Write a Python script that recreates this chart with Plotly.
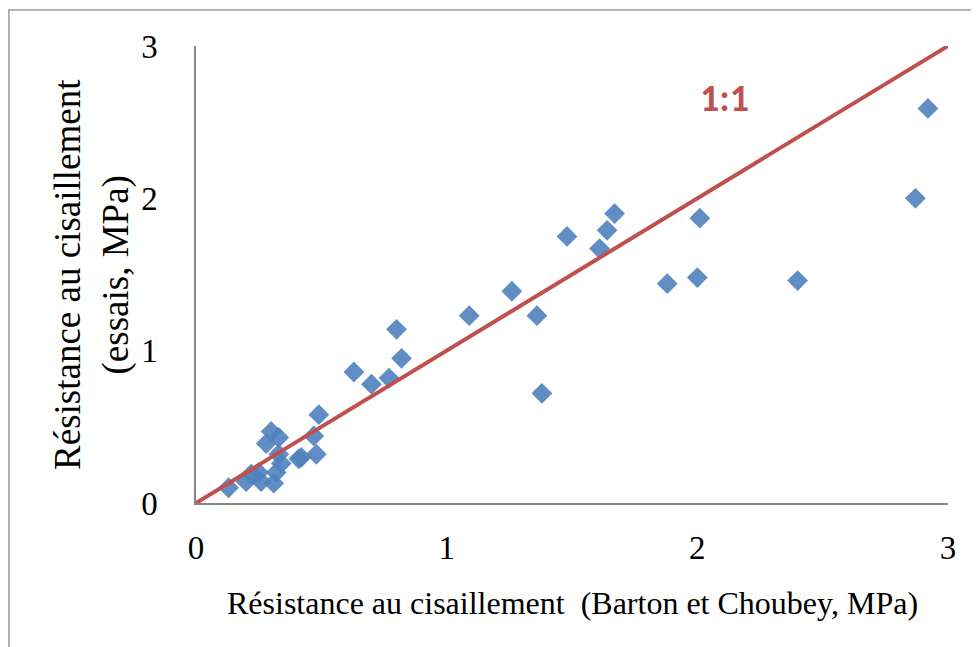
import plotly.graph_objects as go

# Barton & Choubey predicted shear strength (MPa) vs measured (essais, MPa)
barton_x = [2.92, 2.87, 2.40, 2.00, 1.88, 2.01, 1.67, 1.64, 1.61, 1.48,
            1.26, 1.36, 1.38, 1.09, 0.80, 0.82, 0.77, 0.70, 0.63, 0.49,
            0.47, 0.48, 0.41, 0.30, 0.33, 0.28, 0.33, 0.34, 0.32, 0.25,
            0.26, 0.31, 0.20, 0.13, 0.22, 0.42]
essais_y = [2.59, 2.00, 1.46, 1.48, 1.44, 1.87, 1.90, 1.79, 1.67, 1.75,
            1.39, 1.23, 0.72, 1.23, 1.14, 0.95, 0.82, 0.78, 0.86, 0.58,
            0.44, 0.32, 0.29, 0.47, 0.43, 0.39, 0.32, 0.26, 0.20, 0.20,
            0.14, 0.13, 0.14, 0.10, 0.19, 0.30]
ref_line = [0, 3]

blue = "#4F81BD"
red = "#C0504D"
serif = "Liberation Serif, Times New Roman, serif"

fig = go.Figure()
fig.add_trace(go.Scatter(
    x=barton_x, y=essais_y, mode="markers",
    marker=dict(symbol="diamond", size=16, color=blue, opacity=0.9,
                line=dict(width=0)),
    showlegend=False,
))
fig.add_trace(go.Scatter(
    x=ref_line, y=ref_line, mode="lines",
    line=dict(color=red, width=4), showlegend=False,
))

axis_common = dict(
    range=[0, 3], dtick=1, showgrid=False, zeroline=False,
    showline=True, linecolor="#878787", linewidth=1.5,
    ticks="outside", ticklen=0, tickcolor="rgba(0,0,0,0)",
    tickfont=dict(family=serif, size=33, color="black"),
)
fig.update_xaxes(**axis_common, ticklabelstandoff=15)
fig.update_yaxes(**axis_common, ticklabelstandoff=30)

fig.add_annotation(
    text="Résistance au cisaillement  (Barton et Choubey, MPa)",
    xref="paper", yref="paper", x=0.5, y=-0.219, yanchor="middle",
    showarrow=False, font=dict(family=serif, size=32, color="black"),
)
fig.add_annotation(
    text="Résistance au cisaillement<br>(essais, MPa)",
    xref="paper", yref="paper", x=-0.139, y=0.5, xanchor="center",
    textangle=-90, showarrow=False,
    font=dict(family=serif, size=37, color="black"),
)
fig.add_annotation(
    text="<b>1:1</b>", xref="x", yref="y", x=2.11, y=2.66,
    showarrow=False, font=dict(family="Carlito, Lato, sans-serif", size=38, color=red),
)

# outer frame of the chart
fig.add_shape(type="rect", xref="paper", yref="paper",
              x0=-0.2488, x1=1.2, y0=-0.5, y1=1.079,
              line=dict(color="#9A9A9A", width=1.5), layer="below")

# page body has an 8px default margin, so margins are shifted to compensate
fig.update_layout(
    width=979, height=647,
    margin=dict(l=188, r=39, t=38, b=152),
    paper_bgcolor="white", plot_bgcolor="white",
)

fig.write_html("out.html")
